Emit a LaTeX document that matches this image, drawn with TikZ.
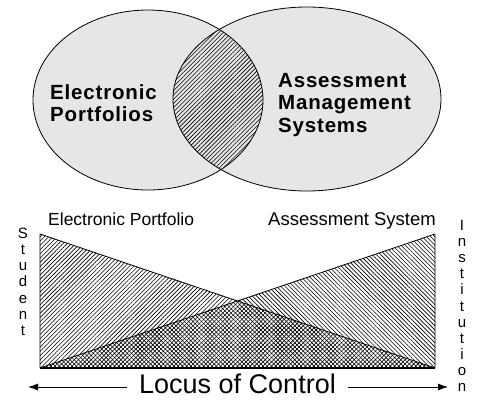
\documentclass[tikz,border=0pt]{standalone}
\usepackage{fontspec}
\setmainfont{Liberation Sans}
\newfontfamily\vennfont[LetterSpace=4]{Liberation Sans}
\usetikzlibrary{patterns.meta, arrows.meta}
\definecolor{venngray}{RGB}{230,230,230}

\begin{document}
\begin{tikzpicture}[
    x=1pt, y=-1pt,
    every node/.style={inner sep=0pt},
    vennline/.style={draw=black, line width=0.8pt},
    hatchne/.style={pattern={Lines[angle=45, distance=3pt, line width=0.6pt]}},
    hatchnw/.style={pattern={Lines[angle=-45, distance=3pt, line width=0.6pt]}},
    vennlabel/.style={font=\vennfont\bfseries\fontsize{20.5}{22.5}\selectfont, align=left, anchor=north west},
    toplabel/.style={anchor=base west},
    vertlabel/.style={font=\fontsize{15}{16.1}\selectfont, align=center, anchor=north},
    ctrl/.style={line width=0.8pt, -{Latex[length=10pt, width=7pt]}}
]
   \useasboundingbox (0,0) rectangle (482,400);

   % Venn diagram
   \coordinate (lc) at (148,100);
   \coordinate (rc) at (307,99);
   \fill[venngray] (lc) ellipse [x radius=115pt, y radius=90pt];
   \fill[venngray] (rc) ellipse [x radius=134pt, y radius=92pt];
   \begin{scope}
      \clip (lc) ellipse [x radius=115pt, y radius=90pt];
      \fill[hatchne] (rc) ellipse [x radius=134pt, y radius=92pt];
   \end{scope}
   \draw[vennline] (lc) ellipse [x radius=115pt, y radius=90pt];
   \draw[vennline] (rc) ellipse [x radius=134pt, y radius=92pt];

   \node[vennlabel] (eport) at (50,84) {Electronic\\Portfolios};
   \node[vennlabel] (asys) at (278,73) {Assessment\\Management\\Systems};

   % Locus of control chart
   \coordinate (sTop) at (40,234);
   \coordinate (sBot) at (40,368);
   \coordinate (iBot) at (435,368);
   \coordinate (iTop) at (435,234);
   \fill[hatchne] (sTop) -- (sBot) -- (iBot) -- cycle;
   \fill[hatchnw] (iTop) -- (iBot) -- (sBot) -- cycle;
   \draw[line width=0.8pt, line join=round] (sBot) -- (sTop) -- (iBot) -- (iTop) -- (sBot);
   \draw[line width=1.5pt] (sBot) -- (iBot);

   \node[toplabel, font=\fontsize{17.5}{20}\selectfont] (eplabel) at (48,225) {Electronic Portfolio};
   \node[toplabel, font=\fontsize{18.5}{20}\selectfont] (aslabel) at (268,225) {Assessment System};
   \node[vertlabel] (student) at (23,228) {S\\t\\u\\d\\e\\n\\t};
   \node[vertlabel] (institution) at (462,220) {I\\n\\s\\t\\i\\t\\u\\t\\i\\o\\n};

   % Axis
   \node[font=\fontsize{27}{29}\selectfont, inner xsep=12pt] (locus) at (237.5,384) {Locus of Control};
   \coordinate (ltip) at (28,387);
   \coordinate (rtip) at (448,387);
   \draw[ctrl] (locus.west |- ltip) -- (ltip);
   \draw[ctrl] (locus.east |- rtip) -- (rtip);
\end{tikzpicture}
\end{document}
